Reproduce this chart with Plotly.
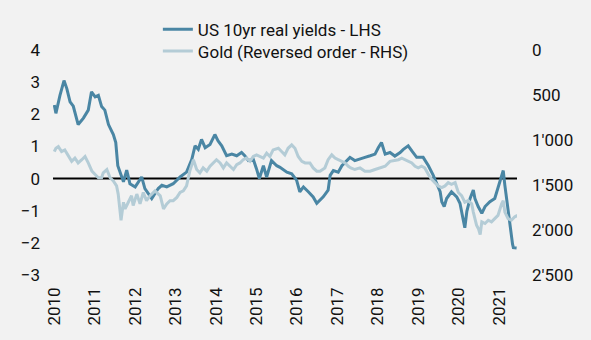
import plotly.graph_objects as go

# US 10yr real yields (LHS) - time in decimal years, value in %
yield_t = [2010.00, 2010.04, 2010.14, 2010.24, 2010.31, 2010.39, 2010.47, 2010.59, 2010.72, 2010.84,
           2010.92, 2011.01, 2011.09, 2011.17, 2011.25, 2011.34, 2011.46, 2011.52, 2011.57, 2011.62,
           2011.71, 2011.79, 2011.87, 2012.00, 2012.16, 2012.24, 2012.41, 2012.57, 2012.66, 2012.78,
           2012.94, 2013.11, 2013.27, 2013.40, 2013.48, 2013.56, 2013.64, 2013.73, 2013.85, 2013.97,
           2014.05, 2014.14, 2014.26, 2014.39, 2014.51, 2014.63, 2014.71, 2014.80, 2014.92, 2015.00,
           2015.07, 2015.17, 2015.25, 2015.37, 2015.50, 2015.58, 2015.75, 2015.87, 2015.99, 2016.07,
           2016.16, 2016.28, 2016.40, 2016.49, 2016.57, 2016.65, 2016.77, 2016.82, 2016.90, 2017.02,
           2017.11, 2017.23, 2017.31, 2017.43, 2017.56, 2017.68, 2017.81, 2017.93, 2018.01, 2018.09,
           2018.18, 2018.30, 2018.42, 2018.55, 2018.63, 2018.75, 2018.84, 2018.96, 2019.12, 2019.25,
           2019.37, 2019.45, 2019.54, 2019.58, 2019.64, 2019.70, 2019.82, 2019.95, 2020.03, 2020.11,
           2020.15, 2020.20, 2020.28, 2020.36, 2020.40, 2020.48, 2020.57, 2020.65, 2020.77, 2020.89,
           2020.98, 2021.06, 2021.10, 2021.14, 2021.21, 2021.27, 2021.33, 2021.35, 2021.43]
yield_v = [2.29, 2.03, 2.59, 3.05, 2.80, 2.39, 2.25, 1.68, 1.88, 2.13,
           2.70, 2.54, 2.59, 2.24, 2.13, 1.68, 1.37, 1.12, 0.40, 0.20,
           -0.10, 0.26, -0.16, -0.26, 0.05, -0.31, -0.62, -0.31, -0.21, -0.26,
           -0.16, 0.05, 0.20, 0.60, 1.02, 0.91, 1.22, 0.96, 1.06, 1.37,
           1.17, 1.02, 0.71, 0.76, 0.71, 0.81, 0.71, 0.56, 0.60, 0.30,
           0.00, 0.40, 0.05, 0.56, 0.40, 0.35, 0.20, 0.15, -0.05, -0.41,
           -0.26, -0.41, -0.57, -0.77, -0.67, -0.57, -0.36, 0.10, 0.25, 0.20,
           0.40, 0.56, 0.66, 0.56, 0.60, 0.66, 0.71, 0.76, 0.96, 1.12,
           0.76, 0.81, 0.70, 0.81, 0.91, 1.02, 0.86, 0.66, 0.66, 0.40,
           0.10, -0.16, -0.41, -0.72, -0.87, -0.62, -0.41, -0.57, -0.77, -1.28,
           -1.53, -1.02, -0.62, -0.36, -0.62, -0.87, -1.08, -0.87, -0.72, -0.62,
           -0.26, 0.10, 0.25, -0.21, -0.92, -1.58, -2.04, -2.15, -2.16]

# Gold price (RHS, reversed) - time in decimal years, USD/oz
gold_t = [2010.00, 2010.04, 2010.10, 2010.18, 2010.26, 2010.35, 2010.43, 2010.51, 2010.59, 2010.68,
          2010.76, 2010.84, 2010.93, 2011.01, 2011.09, 2011.17, 2011.21, 2011.30, 2011.38, 2011.46,
          2011.54, 2011.58, 2011.65, 2011.71, 2011.75, 2011.83, 2011.91, 2011.95, 2012.04, 2012.12,
          2012.20, 2012.28, 2012.37, 2012.49, 2012.57, 2012.62, 2012.70, 2012.78, 2012.86, 2012.94,
          2013.03, 2013.11, 2013.19, 2013.27, 2013.35, 2013.44, 2013.52, 2013.60, 2013.68, 2013.77,
          2013.85, 2013.93, 2014.01, 2014.10, 2014.18, 2014.26, 2014.34, 2014.43, 2014.51, 2014.59,
          2014.67, 2014.75, 2014.84, 2014.92, 2015.00, 2015.08, 2015.17, 2015.25, 2015.33, 2015.41,
          2015.50, 2015.54, 2015.62, 2015.70, 2015.78, 2015.87, 2015.95, 2016.03, 2016.12, 2016.20,
          2016.32, 2016.40, 2016.49, 2016.57, 2016.69, 2016.77, 2016.86, 2016.94, 2017.02, 2017.10,
          2017.19, 2017.27, 2017.33, 2017.43, 2017.56, 2017.68, 2017.81, 2017.93, 2018.06, 2018.18,
          2018.30, 2018.42, 2018.51, 2018.59, 2018.67, 2018.75, 2018.84, 2018.92, 2019.00, 2019.08,
          2019.16, 2019.25, 2019.33, 2019.41, 2019.49, 2019.58, 2019.66, 2019.74, 2019.82, 2019.91,
          2019.99, 2020.07, 2020.15, 2020.23, 2020.32, 2020.36, 2020.44, 2020.49, 2020.53, 2020.57,
          2020.65, 2020.73, 2020.81, 2020.89, 2020.97, 2021.06, 2021.10, 2021.14, 2021.22, 2021.30,
          2021.38, 2021.45]
gold_v = [1129, 1092, 1073, 1129, 1110, 1183, 1237, 1201, 1255, 1219,
          1183, 1255, 1346, 1383, 1419, 1419, 1365, 1328, 1419, 1455,
          1510, 1601, 1892, 1692, 1765, 1692, 1619, 1728, 1601, 1710,
          1583, 1674, 1619, 1565, 1601, 1620, 1765, 1710, 1674, 1674,
          1638, 1583, 1565, 1510, 1346, 1219, 1328, 1365, 1310, 1346,
          1292, 1255, 1219, 1255, 1310, 1255, 1292, 1328, 1274, 1255,
          1219, 1201, 1237, 1183, 1165, 1183, 1201, 1146, 1183, 1110,
          1092, 1092, 1128, 1165, 1092, 1055, 1092, 1183, 1237, 1255,
          1255, 1310, 1346, 1346, 1310, 1219, 1165, 1201, 1219, 1237,
          1255, 1292, 1310, 1328, 1310, 1346, 1346, 1328, 1310, 1292,
          1237, 1230, 1219, 1201, 1219, 1237, 1255, 1292, 1310, 1292,
          1310, 1383, 1437, 1474, 1510, 1528, 1510, 1474, 1492, 1474,
          1583, 1619, 1692, 1674, 1710, 1801, 1947, 1990, 2050, 1910,
          1928, 1892, 1910, 1874, 1838, 1710, 1674, 1801, 1874, 1892,
          1856, 1838]

years = list(range(2010, 2022))
year_labels = [str(y) for y in years]
gold_ticks = [0, 500, 1000, 1500, 2000, 2500]
gold_labels = ["0", "500", "1'000", "1'500", "2'000", "2'500"]
left_ticks = [-3, -2, -1, 0, 1, 2, 3, 4]

DARK = "#4A86A4"
LIGHT = "#B4CCD6"
BG = "#F2F2F2"
FONT = dict(family="Roboto", size=17, color="#111111")

fig = go.Figure()
fig.add_trace(go.Scatter(x=gold_t, y=gold_v, mode="lines", name="Gold (Reversed order - RHS)",
                         line=dict(color=LIGHT, width=3), yaxis="y2", legend="legend2"))
fig.add_trace(go.Scatter(x=yield_t, y=yield_v, mode="lines", name="US 10yr real yields - LHS",
                         line=dict(color=DARK, width=3), yaxis="y", legend="legend"))

fig.add_hline(y=0, line=dict(color="#000000", width=2), layer="below")

fig.update_layout(
    width=591, height=340,
    margin=dict(l=53, r=74, t=46, b=65),
    paper_bgcolor=BG, plot_bgcolor=BG,
    font=FONT,
    showlegend=True,
    legend=dict(x=0.226, y=1.170, xanchor="left", yanchor="top",
                bgcolor="rgba(0,0,0,0)", font=FONT),
    legend2=dict(x=0.226, y=1.074, xanchor="left", yanchor="top",
                 bgcolor="rgba(0,0,0,0)", font=FONT),
    xaxis=dict(range=[2009.968, 2021.44], tickvals=years, ticktext=year_labels,
               tickangle=-90, showgrid=False, zeroline=False, showline=False,
               ticks="", ticklabelstandoff=8),
    yaxis=dict(range=[-3, 4], tickvals=left_ticks, showgrid=False, zeroline=False,
               showline=False, ticks="", ticklabelstandoff=12),
    yaxis2=dict(range=[2500, 0], tickvals=gold_ticks, ticktext=gold_labels,
                overlaying="y", side="right", showgrid=False, zeroline=False,
                showline=False, ticks="", ticklabelstandoff=14),
)

fig.write_html("out.html")
